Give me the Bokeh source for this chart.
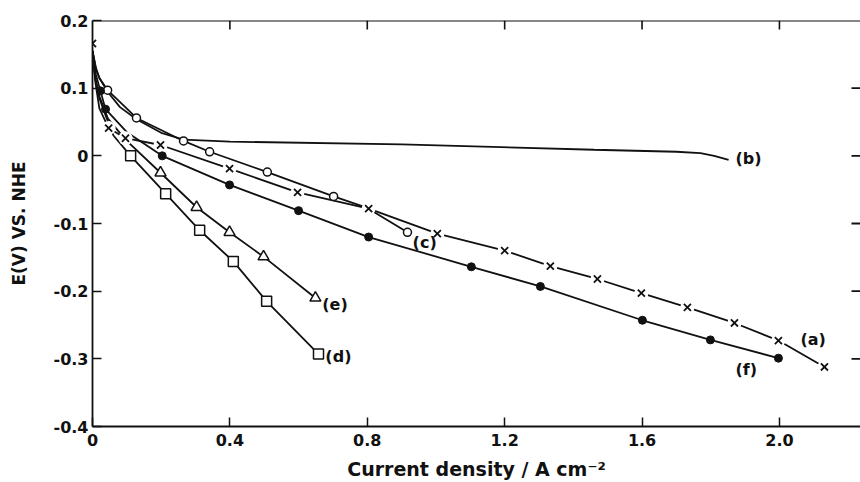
from bokeh.plotting import figure
from bokeh.models import FixedTicker, Range1d, Label, Span
from bokeh.embed import file_html
from bokeh.resources import INLINE

# ---- data ----
# (a) crosses
a_x = [0.0, 0.047, 0.096, 0.198, 0.399, 0.597, 0.804, 1.004, 1.200, 1.333, 1.470, 1.598, 1.732, 1.869, 1.997, 2.131]
a_y = [0.166, 0.041, 0.026, 0.016, -0.019, -0.054, -0.078, -0.115, -0.140, -0.163, -0.182, -0.203, -0.224, -0.247, -0.273, -0.312]
a_line_x = [0.0, 0.008, 0.02, 0.047, 0.096, 0.198, 0.399, 0.597, 0.804, 1.004, 1.200, 1.333, 1.470, 1.598, 1.732, 1.869, 1.997, 2.131]
a_line_y = [0.155, 0.11, 0.07, 0.041, 0.026, 0.016, -0.019, -0.054, -0.078, -0.115, -0.140, -0.163, -0.182, -0.203, -0.224, -0.247, -0.273, -0.312]

# (b) no markers, line traced
b_x = [0.0, 0.01, 0.02, 0.045, 0.08, 0.128, 0.2, 0.265, 0.4, 0.9, 1.46, 1.7, 1.77, 1.81, 1.852]
b_y = [0.155, 0.128, 0.115, 0.094, 0.072, 0.054, 0.034, 0.024, 0.021, 0.017, 0.009, 0.006, 0.004, 0.0, -0.006]

# (c) open circles
c_x = [0.044, 0.128, 0.265, 0.341, 0.509, 0.702, 0.917]
c_y = [0.097, 0.056, 0.022, 0.006, -0.024, -0.060, -0.113]
c_line_x = [0.0, 0.01, 0.02, 0.044, 0.128, 0.265, 0.341, 0.509, 0.702, 0.8, 0.917]
c_line_y = [0.155, 0.13, 0.115, 0.097, 0.056, 0.022, 0.006, -0.024, -0.060, -0.077, -0.113]

# (d) open squares
d_x = [0.111, 0.213, 0.312, 0.410, 0.507, 0.658]
d_y = [0.0, -0.056, -0.110, -0.156, -0.215, -0.293]
d_line_x = [0.0, 0.008, 0.02, 0.04, 0.061, 0.111, 0.213, 0.312, 0.410, 0.507, 0.658]
d_line_y = [0.155, 0.115, 0.085, 0.057, 0.03, 0.0, -0.056, -0.110, -0.156, -0.215, -0.293]

# (e) open triangles
e_x = [0.198, 0.303, 0.399, 0.498, 0.649]
e_y = [-0.025, -0.076, -0.113, -0.149, -0.210]
e_line_x = [0.0, 0.008, 0.02, 0.045, 0.096, 0.198, 0.303, 0.399, 0.498, 0.649]
e_line_y = [0.155, 0.115, 0.088, 0.055, 0.024, -0.025, -0.076, -0.113, -0.149, -0.210]

# (f) filled circles
f_x = [0.023, 0.038, 0.203, 0.399, 0.600, 0.804, 1.103, 1.304, 1.601, 1.799, 1.997]
f_y = [0.096, 0.069, 0.0, -0.043, -0.081, -0.120, -0.164, -0.193, -0.243, -0.272, -0.299]
f_line_x = [0.0, 0.01, 0.023, 0.038, 0.1, 0.203, 0.399, 0.600, 0.804, 1.103, 1.304, 1.601, 1.799, 1.997]
f_line_y = [0.155, 0.12, 0.096, 0.069, 0.035, 0.0, -0.043, -0.081, -0.120, -0.164, -0.193, -0.243, -0.272, -0.299]

# curve labels
lab_text = ["(a)", "(b)", "(c)", "(d)", "(e)", "(f)"]
lab_x = [2.061, 1.872, 0.932, 0.678, 0.669, 1.872]
lab_y = [-0.272, -0.004, -0.128, -0.296, -0.219, -0.316]

x_ticks = [0.0, 0.4, 0.8, 1.2, 1.6, 2.0]
x_tick_labels = ["0", "0.4", "0.8", "1.2", "1.6", "2.0"]
y_ticks = [-0.4, -0.3, -0.2, -0.1, 0.0, 0.1, 0.2]
y_tick_labels = ["-0.4", "-0.3", "-0.2", "-0.1", "0", "0.1", "0.2"]
top_ticks = [0.4, 0.8, 1.2, 1.6, 2.0]
right_ticks = [-0.3, -0.2, -0.1, 0.0, 0.1]

X_MIN, X_MAX = 0.0, 2.236
Y_MIN, Y_MAX = -0.4, 0.2

# layout (pixels)
W, H = 860, 482
BL, BR, BT, BB = 92, 0, 20, 54
TICK = 9
FRAME_W = W - BL - BR
FRAME_H = H - BT - BB
tick_dy = TICK * (Y_MAX - Y_MIN) / FRAME_H
tick_dx = TICK * (X_MAX - X_MIN) / FRAME_W

FONT = "DejaVu Sans"
INK = "#111111"

p = figure(width=W, height=H, output_backend="svg", toolbar_location=None,
           x_range=Range1d(X_MIN, X_MAX), y_range=Range1d(Y_MIN, Y_MAX),
           min_border_left=BL, min_border_right=BR, min_border_top=BT, min_border_bottom=BB,
           x_axis_label="Current density / A cm\u207b\u00b2", y_axis_label="E(V) VS. NHE")
p.xgrid.visible = False
p.ygrid.visible = False
p.outline_line_color = None
p.background_fill_color = "white"

def style_axis(ax, ticks, labels):
    ax.ticker = FixedTicker(ticks=ticks)
    ax.minor_tick_line_color = None
    ax.major_tick_in = TICK
    ax.major_tick_out = 0
    ax.major_tick_line_width = 1.5
    ax.axis_line_width = 1.8
    ax.axis_line_color = INK
    ax.major_tick_line_color = INK
    ax.major_label_overrides = {t: l for t, l in zip(ticks, labels)}
    ax.major_label_text_font = FONT
    ax.major_label_text_font_size = "16px"
    ax.major_label_text_font_style = "bold"
    ax.major_label_text_color = INK

xa = p.xaxis[0]
style_axis(xa, x_ticks, x_tick_labels)
xa.major_label_standoff = 7
xa.axis_label_standoff = 9
xa.axis_label_text_font = FONT
xa.axis_label_text_font_size = "19px"
xa.axis_label_text_font_style = "bold"
xa.axis_label_text_color = INK

ya = p.yaxis[0]
style_axis(ya, y_ticks, y_tick_labels)
ya.major_label_standoff = 4
ya.axis_label_standoff = 22
ya.axis_label_text_font = FONT
ya.axis_label_text_font_size = "17px"
ya.axis_label_text_font_style = "bold"
ya.axis_label_text_color = INK

# top frame line and inward ticks on top / right edges
p.add_layout(Span(location=Y_MAX, dimension="width", line_color=INK, line_width=1.8))
p.segment(x0=top_ticks, y0=[Y_MAX] * len(top_ticks),
          x1=top_ticks, y1=[Y_MAX - tick_dy] * len(top_ticks),
          line_color=INK, line_width=1.6)
p.segment(x0=[X_MAX] * len(right_ticks), y0=right_ticks,
          x1=[X_MAX - tick_dx] * len(right_ticks), y1=right_ticks,
          line_color=INK, line_width=1.8)

LW = 1.8
p.line(b_x, b_y, line_color=INK, line_width=LW)
p.line(c_line_x, c_line_y, line_color=INK, line_width=LW)
p.line(a_line_x, a_line_y, line_color=INK, line_width=LW)
p.line(d_line_x, d_line_y, line_color=INK, line_width=LW)
p.line(e_line_x, e_line_y, line_color=INK, line_width=LW)
p.line(f_line_x, f_line_y, line_color=INK, line_width=LW)

# gaps around crosses
p.scatter(a_x, a_y, marker="circle", size=14, fill_color="white", line_color=None)
p.scatter(a_x, a_y, marker="x", size=10, line_color=INK, line_width=1.8)

p.scatter(c_x, c_y, marker="circle", size=8, fill_color="white", line_color=INK, line_width=1.5)
p.scatter(d_x, d_y, marker="square", size=10, fill_color="white", line_color=INK, line_width=1.5)
p.scatter(e_x, e_y, marker="triangle", size=11, fill_color="white", line_color=INK, line_width=1.5)
p.scatter(f_x, f_y, marker="circle", size=8, fill_color=INK, line_color=INK)

for t, x, y in zip(lab_text, lab_x, lab_y):
    p.add_layout(Label(x=x, y=y, text=t, text_font=FONT, text_font_size="16px",
                       text_font_style="bold", text_baseline="middle", text_align="left",
                       text_color=INK))

open("out.html", "w").write(file_html(p, INLINE))
